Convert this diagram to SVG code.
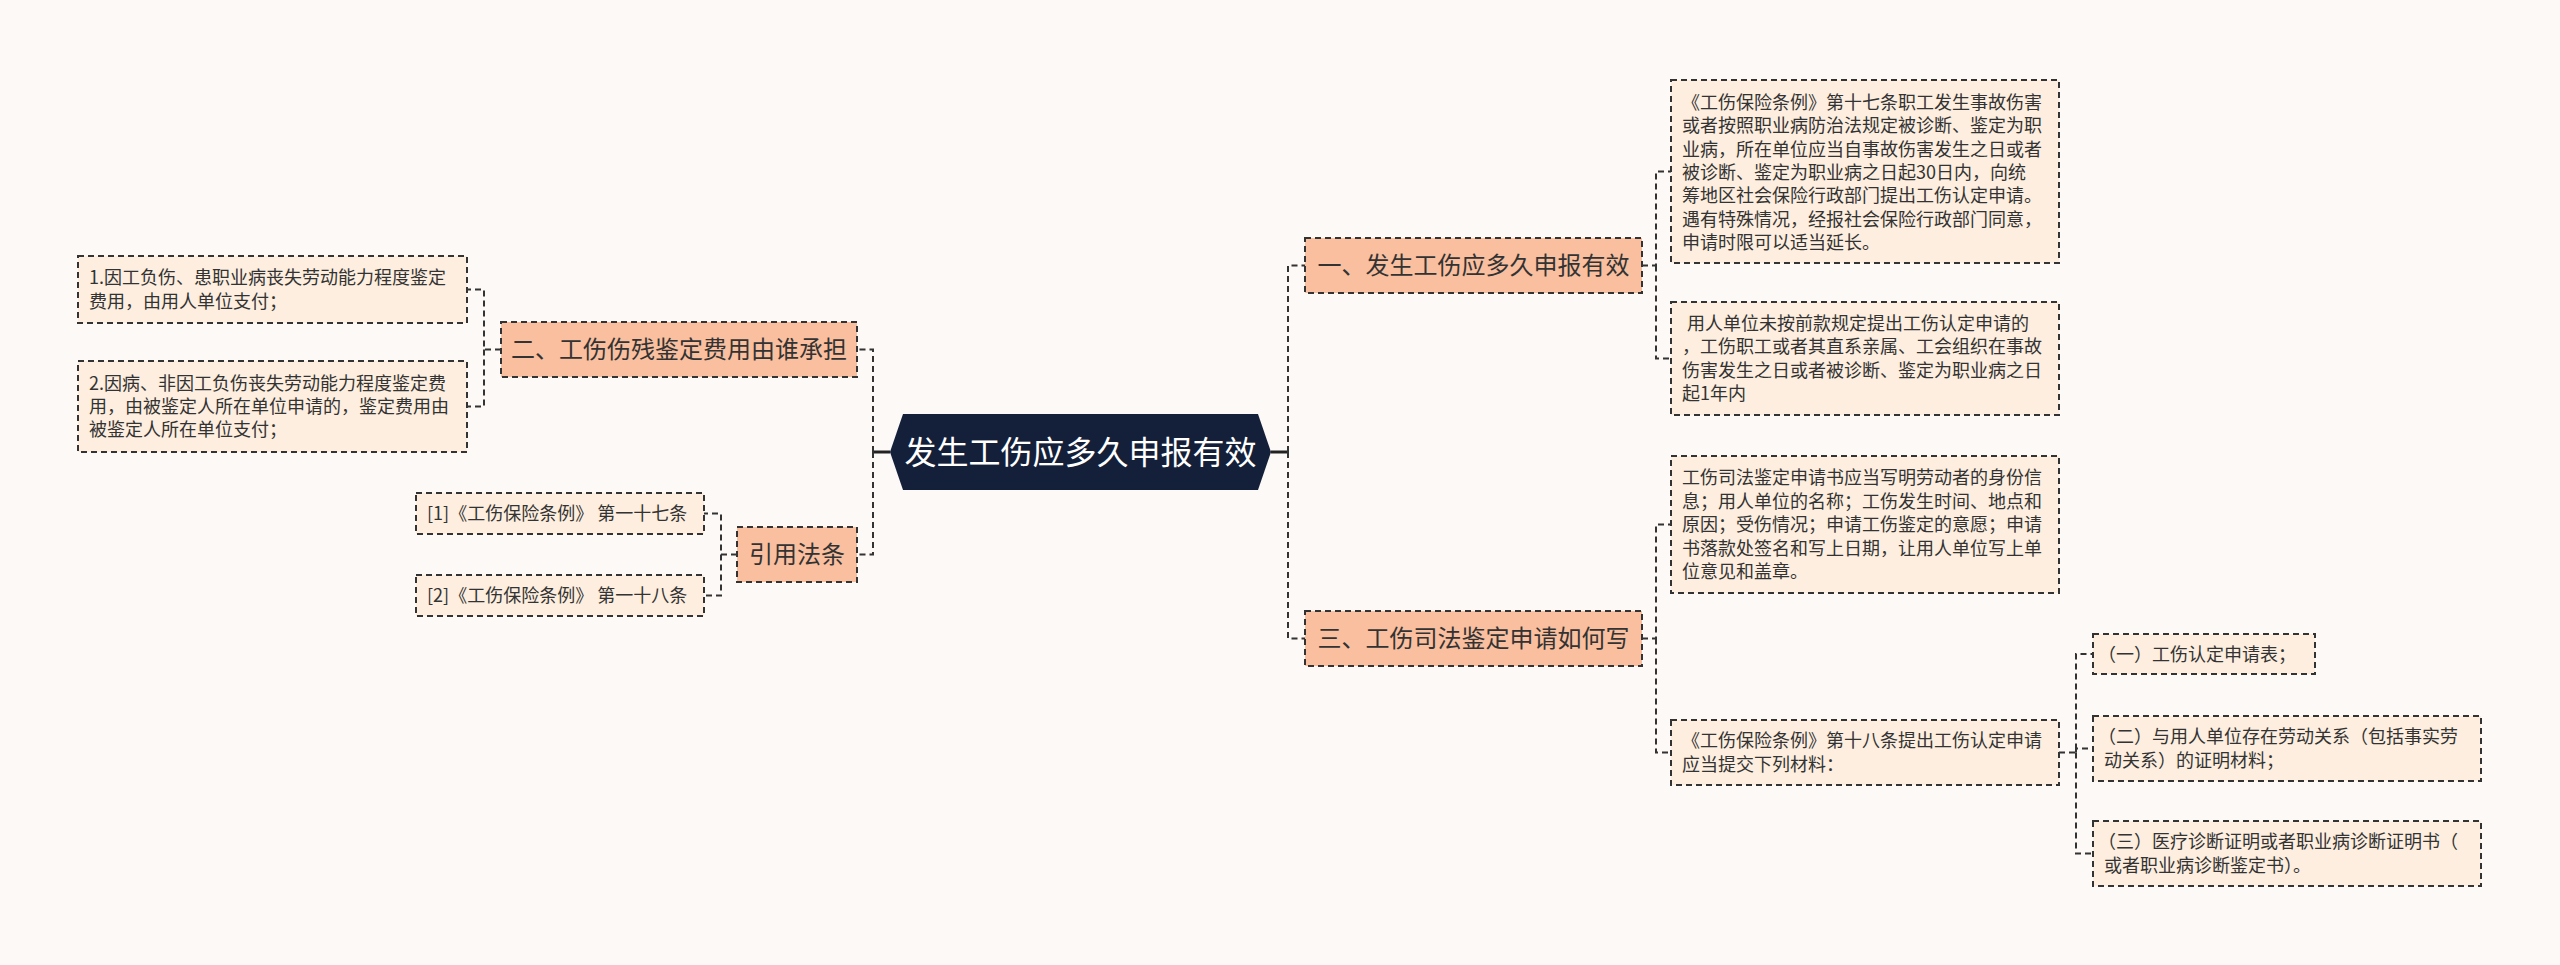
<svg xmlns="http://www.w3.org/2000/svg" width="2560" height="965" viewBox="0 0 2560 965">
<style>
text{font-family:"Noto Sans CJK SC","Liberation Sans",sans-serif;fill:#333;}
.leaf rect{fill:#fdeedf;stroke:#333;stroke-width:2;stroke-dasharray:6 4;}
.leaf text{font-size:18px;}
.branch rect{fill:#f9bf9f;stroke:#333;stroke-width:2;stroke-dasharray:6 4;}
.branch text{font-size:24px;}
.conn path{fill:none;stroke:#333;stroke-width:2;stroke-dasharray:6 4;}
.conn line{stroke:#222;stroke-width:3;}
</style>
<rect x="0" y="0" width="2560" height="965" fill="#fdf9f7"/>
<g id="connectors" class="conn">
<line x1="1271" y1="452" x2="1288" y2="452"/>
<line x1="890" y1="452" x2="873" y2="452"/>
<path d="M1288,452 V265.5 H1305"/>
<path d="M1288,452 V638.5 H1305"/>
<path d="M1642,265.5 H1656 V171.5 H1671"/>
<path d="M1656,265.5 V358.5 H1671"/>
<path d="M1642,638.5 H1656 V524.5 H1671"/>
<path d="M1656,638.5 V752.5 H1671"/>
<path d="M2059,752.5 H2076 V654 H2093"/>
<path d="M2076,752.5 V748.5 H2093"/>
<path d="M2076,752.5 V853.5 H2093"/>
<path d="M873,452 V349.5 H857"/>
<path d="M873,452 V554.5 H857"/>
<path d="M501,349.5 H484 V289.5 H467"/>
<path d="M484,349.5 V406.5 H467"/>
<path d="M737,554.5 H721 V513.5 H704"/>
<path d="M721,554.5 V595.5 H704"/>
</g>
<g id="root">
<polygon points="890,452 903,414 1258,414 1271,452 1258,490 903,490" fill="#142039"/>
<text x="1080.5" y="463.5" text-anchor="middle" style="font-size:32px;fill:#fff">发生工伤应多久申报有效</text>
</g>
<g id="b1" class="branch">
<rect x="1305" y="238" width="337" height="55"/>
<text x="1473.5" y="274" text-anchor="middle">一、发生工伤应多久申报有效</text>
</g>
<g id="b3" class="branch">
<rect x="1305" y="611" width="337" height="55"/>
<text x="1473.5" y="647" text-anchor="middle">三、工伤司法鉴定申请如何写</text>
</g>
<g id="b2" class="branch">
<rect x="501" y="322" width="356" height="55"/>
<text x="679" y="358" text-anchor="middle">二、工伤伤残鉴定费用由谁承担</text>
</g>
<g id="b4" class="branch">
<rect x="737" y="527" width="120" height="55"/>
<text x="797" y="563" text-anchor="middle">引用法条</text>
</g>
<g id="l1a" class="leaf">
<rect x="1671" y="80" width="388" height="183"/>
<text x="1682">
<tspan x="1682" y="108.8">《工伤保险条例》第十七条职工发生事故伤害</tspan>
<tspan x="1682" y="132.2">或者按照职业病防治法规定被诊断、鉴定为职</tspan>
<tspan x="1682" y="155.6">业病，所在单位应当自事故伤害发生之日或者</tspan>
<tspan x="1682" y="179">被诊断、鉴定为职业病之日起30日内，向统</tspan>
<tspan x="1682" y="202.4">筹地区社会保险行政部门提出工伤认定申请。</tspan>
<tspan x="1682" y="225.8">遇有特殊情况，经报社会保险行政部门同意，</tspan>
<tspan x="1682" y="249.2">申请时限可以适当延长。</tspan>
</text>
</g>
<g id="l1b" class="leaf">
<rect x="1671" y="302" width="388" height="113"/>
<text x="1682">
<tspan x="1687" y="330">用人单位未按前款规定提出工伤认定申请的</tspan>
<tspan x="1682" y="353.4">，工伤职工或者其直系亲属、工会组织在事故</tspan>
<tspan x="1682" y="376.8">伤害发生之日或者被诊断、鉴定为职业病之日</tspan>
<tspan x="1682" y="400.2">起1年内</tspan>
</text>
</g>
<g id="l3a" class="leaf">
<rect x="1671" y="456" width="388" height="137"/>
<text x="1682">
<tspan x="1682" y="484.3">工伤司法鉴定申请书应当写明劳动者的身份信</tspan>
<tspan x="1682" y="507.7">息；用人单位的名称；工伤发生时间、地点和</tspan>
<tspan x="1682" y="531.1">原因；受伤情况；申请工伤鉴定的意愿；申请</tspan>
<tspan x="1682" y="554.5">书落款处签名和写上日期，让用人单位写上单</tspan>
<tspan x="1682" y="577.9">位意见和盖章。</tspan>
</text>
</g>
<g id="l3b" class="leaf">
<rect x="1671" y="720" width="388" height="65"/>
<text x="1682">
<tspan x="1682" y="747.3">《工伤保险条例》第十八条提出工伤认定申请</tspan>
<tspan x="1682" y="770.7">应当提交下列材料：</tspan>
</text>
</g>
<g id="c1" class="leaf">
<rect x="2093" y="634" width="222" height="40"/>
<text x="2098" y="660.5">（一）工伤认定申请表；</text>
</g>
<g id="c2" class="leaf">
<rect x="2093" y="716" width="388" height="65"/>
<text x="2098">
<tspan x="2098" y="743.3">（二）与用人单位存在劳动关系（包括事实劳</tspan>
<tspan x="2104" y="766.7">动关系）的证明材料；</tspan>
</text>
</g>
<g id="c3" class="leaf">
<rect x="2093" y="821" width="388" height="65"/>
<text x="2098">
<tspan x="2098" y="848.3">（三）医疗诊断证明或者职业病诊断证明书（</tspan>
<tspan x="2104" y="871.7">或者职业病诊断鉴定书）。</tspan>
</text>
</g>
<g id="l2a" class="leaf">
<rect x="78" y="256" width="389" height="67"/>
<text x="89">
<tspan x="89" y="284.3">1.因工负伤、患职业病丧失劳动能力程度鉴定</tspan>
<tspan x="89" y="307.7">费用，由用人单位支付；</tspan>
</text>
</g>
<g id="l2b" class="leaf">
<rect x="78" y="361" width="389" height="91"/>
<text x="89">
<tspan x="89" y="389.6">2.因病、非因工负伤丧失劳动能力程度鉴定费</tspan>
<tspan x="89" y="413">用，由被鉴定人所在单位申请的，鉴定费用由</tspan>
<tspan x="89" y="436.4">被鉴定人所在单位支付；</tspan>
</text>
</g>
<g id="r1" class="leaf">
<rect x="416" y="493" width="288" height="41"/>
<text x="427" y="520">[1]《工伤保险条例》 第一十七条</text>
</g>
<g id="r2" class="leaf">
<rect x="416" y="575" width="288" height="41"/>
<text x="427" y="602">[2]《工伤保险条例》 第一十八条</text>
</g>
</svg>
